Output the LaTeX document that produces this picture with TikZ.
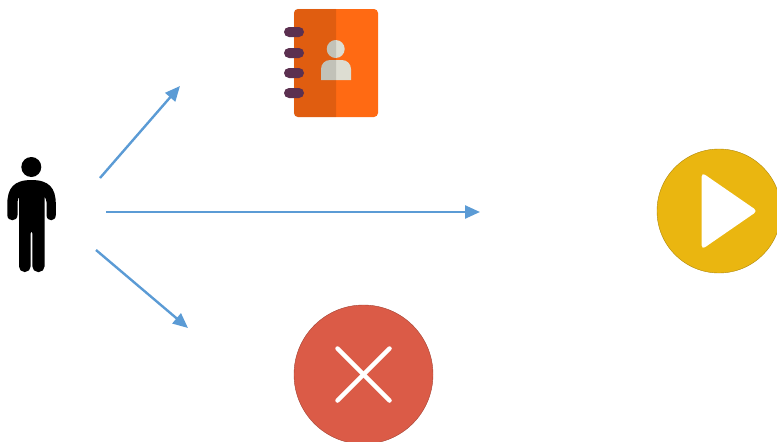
\documentclass[tikz,border=0pt]{standalone}
\usepackage{xcolor}
\usetikzlibrary{arrows.meta,positioning}
\definecolor{arrowblue}{HTML}{5B9BD5}
\definecolor{bookorange}{HTML}{FF6A13}
\definecolor{ringpurple}{HTML}{5B3050}
\definecolor{bustgrey}{HTML}{DDDDD2}
\definecolor{playyellow}{HTML}{EAB610}
\definecolor{cancelred}{HTML}{DB5B47}

\begin{document}
\begin{tikzpicture}[
 x=1pt, y=-1pt,
 >={Triangle[length=15pt,width=13pt]},
 link/.style={->, draw=arrowblue, line width=2.4pt},
 disc/.style={circle, fill=#1, draw=#1!75!black, line width=0.4pt, inner sep=0pt},
 dot/.style={circle, fill=#1, inner sep=0pt},
 ring/.style={rectangle, rounded corners=5pt, fill=ringpurple, minimum width=20pt, minimum height=10pt, inner sep=0pt},
]
\clip (0,0) rectangle (777,442);
% person
\node[dot=black, minimum size=20pt] (head) at (31.3,167) {};
\fill[black] (31.5,180) .. controls (14,180) and (7.3,188) .. (7.3,204) -- (7.3,215) .. controls (7.3,222) and (17.5,222) .. (17.5,215) -- (17.5,202) .. controls (17.5,199) and (19,197) .. (19.5,197) -- (44,197) .. controls (45,197) and (46.5,199) .. (46.5,202) -- (46.5,215) .. controls (46.5,222) and (55.8,222) .. (55.8,215) -- (55.8,204) .. controls (55.8,188) and (49,180) .. (31.5,180) -- cycle;
\fill[black, rounded corners=5.5pt] (19,190) -- (19,272) -- (30.6,272) -- (30.6,228) -- (32.4,228) -- (32.4,272) -- (44.5,272) -- (44.5,190) -- cycle;
% address book
\node[rectangle, rounded corners=4pt, fill=bookorange, minimum width=84pt, minimum height=108pt, inner sep=0pt] (book) at (336,63) {};
\node[dot=bustgrey, minimum size=18pt] (bookhead) at (335.7,49) {};
\fill[bustgrey] (321,80) [rounded corners=9pt] -- (321,60) -- (351,60) [sharp corners] -- (351,80) -- cycle;
\fill[black, opacity=0.12] (book.south) [rounded corners=4pt] -- (book.south west) -- (book.north west) [sharp corners] -- (book.north) -- cycle;
\foreach \y/\name in {32/ringa,53/ringb,73/ringc,93/ringd}
 \node[ring] (\name) at (294,\y) {};
% play
\node[disc=playyellow, minimum size=124pt] (play) at (719,211) {};
\fill[white, rounded corners=4pt] (701.7,172.5) -- (757.5,211) -- (701.7,249.5) -- cycle;
% cancel
\node[disc=cancelred, minimum size=139pt] (cancel) at (363.5,374.5) {};
\draw[white, line width=4.5pt, line cap=round] (337.5,348.5) -- (389.5,400.5);
\draw[white, line width=4.5pt, line cap=round] (389.5,348.5) -- (337.5,400.5);
% arrows
\coordinate (upstart) at (100,178);
\coordinate (upend) at (180,86);
\coordinate (midstart) at (106,212);
\coordinate (midend) at (480,212);
\coordinate (lowstart) at (96,250);
\coordinate (lowend) at (188,328);
\draw[link] (upstart) -- (upend);
\draw[link] (midstart) -- (midend);
\draw[link] (lowstart) -- (lowend);
\end{tikzpicture}
\end{document}
